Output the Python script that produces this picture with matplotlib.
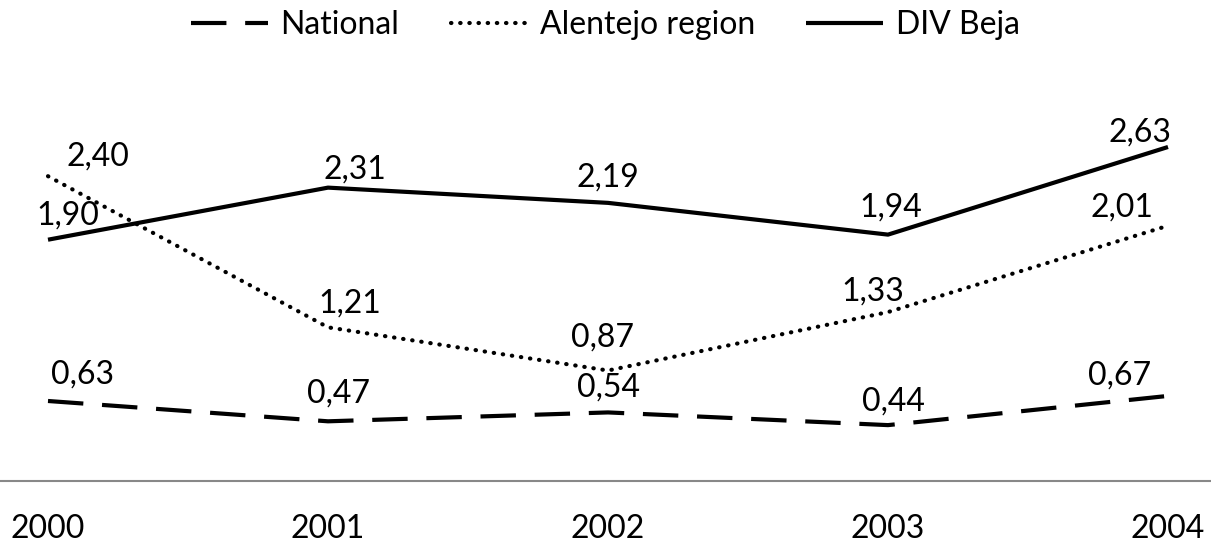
import matplotlib.pyplot as plt
import numpy as np

plt.rcParams['font.family'] = ['Lato', 'DejaVu Sans']

# datos
years = ['2000', '2001', '2002', '2003', '2004']
national = [0.63, 0.47, 0.54, 0.44, 0.67]
alentejo = [2.40, 1.21, 0.87, 1.33, 2.01]
div_beja = [1.90, 2.31, 2.19, 1.94, 2.63]

x = np.arange(len(years))

fig = plt.figure(figsize=(12.11, 5.44), dpi=100)
ax = fig.add_axes([0, 63 / 544, 1, 381 / 544])

l1, = ax.plot(x, national, color='black', lw=3, linestyle=(0, (8.5, 4.5)))
l2, = ax.plot(x, alentejo, color='black', lw=3, linestyle=(0, (0.1, 2.1)),
              dash_capstyle='round')
l3, = ax.plot(x, div_beja, color='black', lw=3, solid_capstyle='butt')

# desplazamiento de las etiquetas (pixeles)
offsets = {
    'national': [(35, 26), (10, 28), (0, 25), (5, 24), (-48, 20)],
    'alentejo': [(50, 20), (22, 24), (-5, 33), (-15, 21), (-46, 18)],
    'div_beja': [(20, 24), (27, 18), (0, 25), (3, 27), (-28, 14)],
}
for name, vals in [('national', national), ('alentejo', alentejo), ('div_beja', div_beja)]:
    for i, v in enumerate(vals):
        ax.annotate(f'{v:.2f}'.replace('.', ','), (x[i], v),
                    xytext=offsets[name][i], textcoords='offset pixels',
                    ha='center', va='center', fontsize=23)

ax.set_xlim(-48 / 280, 4 + 43 / 280)
ax.set_ylim(0, 3.0)
ax.set_xticks(x)
ax.set_xticklabels(years, fontsize=23)
ax.tick_params(axis='x', length=0, pad=24)
ax.set_yticks([])
for s in ['top', 'right', 'left']:
    ax.spines[s].set_visible(False)
ax.spines['bottom'].set_color('#888888')
ax.spines['bottom'].set_linewidth(1.5)

fig.legend([l1, l2, l3], ['National', 'Alentejo region', 'DIV Beja'],
           loc='center', bbox_to_anchor=(0.5, 1 - 25 / 544), ncol=3,
           frameon=False, fontsize=23, handlelength=2.4,
           handletextpad=0.4, columnspacing=1.6)

plt.savefig('out.png', dpi=100)
